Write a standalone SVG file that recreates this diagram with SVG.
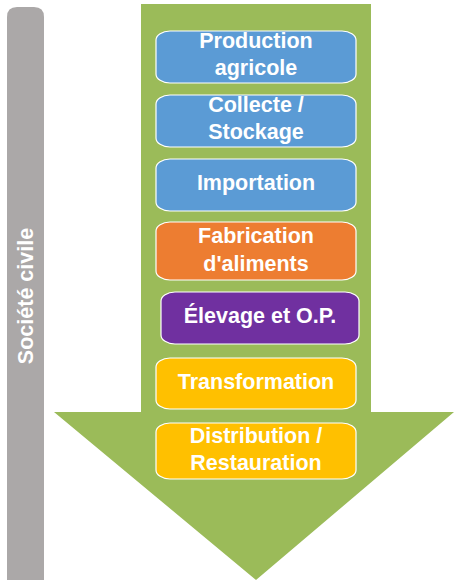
<svg xmlns="http://www.w3.org/2000/svg" width="454" height="580" viewBox="0 0 454 580">
<style>
.box{stroke:#ffffff;stroke-width:1.2}
.t{font-family:"Liberation Sans",Arial,sans-serif;font-weight:bold;font-size:21.5px;fill:#ffffff;text-anchor:middle}
</style>
<rect width="454" height="580" fill="#ffffff"/>
<g id="societe-civile">
<path d="M7,17 Q7,7 17,7 L34,7 Q44,7 44,17 L44,580 L7,580 Z" fill="#ABA8A8"/>
<text class="t" transform="translate(33,296) rotate(-90)">Société civile</text>
</g>
<g id="arrow">
<polygon points="141,4 371,4 371,412 454,412 256,580 54,412 141,412" fill="#9BBB59"/>
</g>
<g id="production">
<rect class="box" x="156" y="31" width="200" height="52" rx="14" ry="9" fill="#5B9BD5"/>
<text class="t" x="256" y="48">Production</text>
<text class="t" x="256" y="75">agricole</text>
</g>
<g id="collecte">
<rect class="box" x="156" y="95" width="200" height="52" rx="14" ry="9" fill="#5B9BD5"/>
<text class="t" x="256" y="112">Collecte /</text>
<text class="t" x="256" y="139">Stockage</text>
</g>
<g id="importation">
<rect class="box" x="156" y="159" width="200" height="52" rx="14" ry="9" fill="#5B9BD5"/>
<text class="t" x="256" y="190">Importation</text>
</g>
<g id="fabrication">
<rect class="box" x="156" y="222" width="200" height="58" rx="14" ry="9" fill="#ED7D31"/>
<text class="t" x="256" y="243">Fabrication</text>
<text class="t" x="256" y="271">d'aliments</text>
</g>
<g id="elevage">
<rect class="box" x="161" y="292" width="198" height="52" rx="14" ry="9" fill="#7030A0"/>
<text class="t" x="260" y="323">Élevage et O.P.</text>
</g>
<g id="transformation">
<rect class="box" x="156" y="358" width="200" height="51" rx="14" ry="9" fill="#FFC000"/>
<text class="t" x="256" y="389">Transformation</text>
</g>
<g id="distribution">
<rect class="box" x="156" y="423" width="200" height="56" rx="14" ry="9" fill="#FFC000"/>
<text class="t" x="256" y="443">Distribution /</text>
<text class="t" x="256" y="470">Restauration</text>
</g>
<g id="connectors"></g>
</svg>
